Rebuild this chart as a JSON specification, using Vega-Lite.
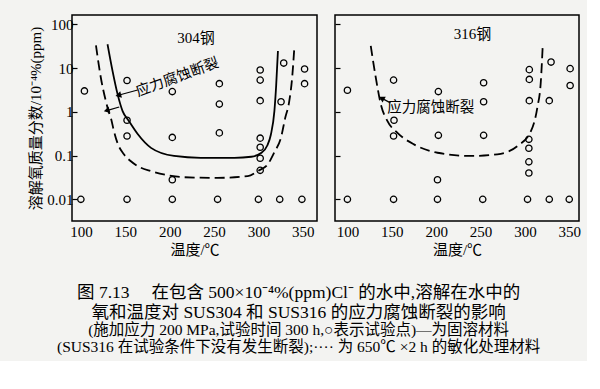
{
  "$schema": "https://vega.github.io/schema/vega-lite/v6.json",
  "background": "#f3f3f1",
  "padding": {"left": 28, "top": 14, "right": 5, "bottom": 5},
  "config": {
    "view": {"stroke": "black", "strokeWidth": 1.5},
    "axis": {"labelFont": "Liberation Serif", "labelFontSize": 15, "labelColor": "black", "tickColor": "black", "tickWidth": 1.2, "grid": false, "domain": false, "titleFont": "Liberation Serif, Noto Sans CJK SC", "titleFontWeight": "normal", "titleColor": "black"}
  },
  "title": {
    "text": ["图 7.13　  在包含 500×10⁻⁴%(ppm)Cl⁻ 的水中,溶解在水中的", "氧和温度对 SUS304 和 SUS316 的应力腐蚀断裂的影响"],
    "subtitle": ["(施加应力 200 MPa,试验时间 300 h,○表示试验点)—为固溶材料", "(SUS316 在试验条件下没有发生断裂);····  为 650℃ ×2 h 的敏化处理材料"],
    "orient": "bottom", "anchor": "middle", "dx": -6,
    "font": "Liberation Serif, Noto Sans CJK SC", "fontSize": 17.5, "fontWeight": "normal", "lineHeight": 20, "color": "black",
    "subtitleFont": "Liberation Serif, Noto Sans CJK SC", "subtitleFontSize": 15.5, "subtitleLineHeight": 17, "subtitleColor": "black", "subtitlePadding": 2,
    "offset": 26
  },
  "datasets": {
    "points": [
      {"steel": "304", "temp": 100, "o2": 0.01}, {"steel": "304", "temp": 104, "o2": 3.0},
      {"steel": "304", "temp": 152, "o2": 5.2}, {"steel": "304", "temp": 152, "o2": 0.64}, {"steel": "304", "temp": 152, "o2": 0.28}, {"steel": "304", "temp": 152, "o2": 0.01},
      {"steel": "304", "temp": 203, "o2": 2.9}, {"steel": "304", "temp": 203, "o2": 0.26}, {"steel": "304", "temp": 203, "o2": 0.028}, {"steel": "304", "temp": 203, "o2": 0.01},
      {"steel": "304", "temp": 256, "o2": 4.4}, {"steel": "304", "temp": 256, "o2": 1.5}, {"steel": "304", "temp": 256, "o2": 0.33}, {"steel": "304", "temp": 254, "o2": 0.01},
      {"steel": "304", "temp": 302, "o2": 9.0}, {"steel": "304", "temp": 302, "o2": 5.3}, {"steel": "304", "temp": 302, "o2": 1.8}, {"steel": "304", "temp": 302, "o2": 0.25}, {"steel": "304", "temp": 302, "o2": 0.155}, {"steel": "304", "temp": 302, "o2": 0.087}, {"steel": "304", "temp": 302, "o2": 0.046}, {"steel": "304", "temp": 300, "o2": 0.01},
      {"steel": "304", "temp": 328.5, "o2": 13}, {"steel": "304", "temp": 325.5, "o2": 1.7}, {"steel": "304", "temp": 324, "o2": 0.01},
      {"steel": "304", "temp": 352, "o2": 9.5}, {"steel": "304", "temp": 352, "o2": 4.4}, {"steel": "304", "temp": 349, "o2": 0.01},
      {"steel": "316", "temp": 100, "o2": 3.1}, {"steel": "316", "temp": 100, "o2": 0.01},
      {"steel": "316", "temp": 152, "o2": 5.3}, {"steel": "316", "temp": 152.5, "o2": 0.64}, {"steel": "316", "temp": 152, "o2": 0.28}, {"steel": "316", "temp": 152, "o2": 0.01},
      {"steel": "316", "temp": 202.5, "o2": 2.9}, {"steel": "316", "temp": 202.5, "o2": 0.29}, {"steel": "316", "temp": 201.5, "o2": 0.028}, {"steel": "316", "temp": 201.5, "o2": 0.01},
      {"steel": "316", "temp": 253.5, "o2": 4.6}, {"steel": "316", "temp": 253.5, "o2": 1.7}, {"steel": "316", "temp": 253.5, "o2": 0.29}, {"steel": "316", "temp": 252.5, "o2": 0.01},
      {"steel": "316", "temp": 305, "o2": 9.2}, {"steel": "316", "temp": 305, "o2": 5.5}, {"steel": "316", "temp": 305, "o2": 1.8}, {"steel": "316", "temp": 304.5, "o2": 0.235}, {"steel": "316", "temp": 304.5, "o2": 0.147}, {"steel": "316", "temp": 304.5, "o2": 0.072}, {"steel": "316", "temp": 304.5, "o2": 0.04}, {"steel": "316", "temp": 303, "o2": 0.01},
      {"steel": "316", "temp": 329.5, "o2": 13.7}, {"steel": "316", "temp": 327.5, "o2": 1.8}, {"steel": "316", "temp": 327.5, "o2": 0.01},
      {"steel": "316", "temp": 351, "o2": 9.7}, {"steel": "316", "temp": 351, "o2": 4.0}, {"steel": "316", "temp": 350, "o2": 0.01}
    ],
    "curves": [
      {"steel": "304", "kind": "solid", "temp": 130, "o2": 35}, {"steel": "304", "kind": "solid", "temp": 135.7, "o2": 8.5}, {"steel": "304", "kind": "solid", "temp": 141.4, "o2": 2.5}, {"steel": "304", "kind": "solid", "temp": 147, "o2": 1.04}, {"steel": "304", "kind": "solid", "temp": 154, "o2": 0.62}, {"steel": "304", "kind": "solid", "temp": 164, "o2": 0.31}, {"steel": "304", "kind": "solid", "temp": 179, "o2": 0.15}, {"steel": "304", "kind": "solid", "temp": 205, "o2": 0.098}, {"steel": "304", "kind": "solid", "temp": 235, "o2": 0.089}, {"steel": "304", "kind": "solid", "temp": 273, "o2": 0.089}, {"steel": "304", "kind": "solid", "temp": 292, "o2": 0.094}, {"steel": "304", "kind": "solid", "temp": 303, "o2": 0.115}, {"steel": "304", "kind": "solid", "temp": 310, "o2": 0.17}, {"steel": "304", "kind": "solid", "temp": 314, "o2": 0.3}, {"steel": "304", "kind": "solid", "temp": 318, "o2": 1.04}, {"steel": "304", "kind": "solid", "temp": 320, "o2": 4}, {"steel": "304", "kind": "solid", "temp": 322, "o2": 24.5},
      {"steel": "304", "kind": "dashed", "temp": 117, "o2": 33}, {"steel": "304", "kind": "dashed", "temp": 122.5, "o2": 6}, {"steel": "304", "kind": "dashed", "temp": 128, "o2": 1.8}, {"steel": "304", "kind": "dashed", "temp": 131, "o2": 1.05}, {"steel": "304", "kind": "dashed", "temp": 134, "o2": 0.7}, {"steel": "304", "kind": "dashed", "temp": 137, "o2": 0.38}, {"steel": "304", "kind": "dashed", "temp": 141.4, "o2": 0.19}, {"steel": "304", "kind": "dashed", "temp": 148, "o2": 0.11}, {"steel": "304", "kind": "dashed", "temp": 156, "o2": 0.075}, {"steel": "304", "kind": "dashed", "temp": 165, "o2": 0.056}, {"steel": "304", "kind": "dashed", "temp": 179, "o2": 0.044}, {"steel": "304", "kind": "dashed", "temp": 200, "o2": 0.035}, {"steel": "304", "kind": "dashed", "temp": 216, "o2": 0.032}, {"steel": "304", "kind": "dashed", "temp": 254, "o2": 0.031}, {"steel": "304", "kind": "dashed", "temp": 288, "o2": 0.034}, {"steel": "304", "kind": "dashed", "temp": 300, "o2": 0.045}, {"steel": "304", "kind": "dashed", "temp": 310.5, "o2": 0.063}, {"steel": "304", "kind": "dashed", "temp": 318, "o2": 0.12}, {"steel": "304", "kind": "dashed", "temp": 325.5, "o2": 0.26}, {"steel": "304", "kind": "dashed", "temp": 330, "o2": 0.7}, {"steel": "304", "kind": "dashed", "temp": 334.8, "o2": 1.77}, {"steel": "304", "kind": "dashed", "temp": 338, "o2": 6}, {"steel": "304", "kind": "dashed", "temp": 340.5, "o2": 30},
      {"steel": "316", "kind": "dashed", "temp": 126.3, "o2": 32}, {"steel": "316", "kind": "dashed", "temp": 132, "o2": 6}, {"steel": "316", "kind": "dashed", "temp": 137.6, "o2": 1.5}, {"steel": "316", "kind": "dashed", "temp": 145, "o2": 0.62}, {"steel": "316", "kind": "dashed", "temp": 156.4, "o2": 0.33}, {"steel": "316", "kind": "dashed", "temp": 175, "o2": 0.18}, {"steel": "316", "kind": "dashed", "temp": 201.5, "o2": 0.116}, {"steel": "316", "kind": "dashed", "temp": 239, "o2": 0.098}, {"steel": "316", "kind": "dashed", "temp": 269, "o2": 0.107}, {"steel": "316", "kind": "dashed", "temp": 291.7, "o2": 0.165}, {"steel": "316", "kind": "dashed", "temp": 306.8, "o2": 0.36}, {"steel": "316", "kind": "dashed", "temp": 314, "o2": 1.24}, {"steel": "316", "kind": "dashed", "temp": 318, "o2": 5}, {"steel": "316", "kind": "dashed", "temp": 320, "o2": 29}
    ],
    "arrows": [
      {"steel": "304", "arrow": "a1", "tip": false, "temp": 164, "o2": 3.15}, {"steel": "304", "arrow": "a1", "tip": true, "temp": 143.2, "o2": 2.42},
      {"steel": "304", "arrow": "a2", "tip": false, "temp": 143.2, "o2": 1.29}, {"steel": "304", "arrow": "a2", "tip": true, "temp": 130.1, "o2": 1.08},
      {"steel": "316", "arrow": "b1", "tip": false, "temp": 148.5, "o2": 1.6}, {"steel": "316", "arrow": "b1", "tip": true, "temp": 139.5, "o2": 2.0}
    ],
    "labels": [
      {"steel": "304", "kind": "name", "temp": 229.6, "o2": 49, "label": "304钢"},
      {"steel": "304", "kind": "note", "temp": 208.8, "o2": 6.0, "label": "应力腐蚀断裂"},
      {"steel": "316", "kind": "name", "temp": 241, "o2": 59, "label": "316钢"},
      {"steel": "316", "kind": "note", "temp": 194, "o2": 1.24, "label": "应力腐蚀断裂"}
    ]
  },
  "hconcat": [
    {
      "width": 245, "height": 206,
      "encoding": {
        "x": {"field": "temp", "type": "quantitative", "scale": {"domain": [90, 366], "nice": false, "zero": false},
              "axis": {"values": [100, 150, 200, 250, 300, 350], "format": "d", "title": "温度/℃", "titleFontSize": 15, "ticks": false, "labelPadding": 3, "titlePadding": 3}},
        "y": {"field": "o2", "type": "quantitative", "scale": {"type": "log", "domain": [0.0032, 163], "nice": false},
              "axis": {"values": [0.01, 0.1, 1, 10, 100], "format": "~g", "title": "溶解氧质量分数/10⁻⁴%(ppm)", "titleFontSize": 15, "tickSize": -5, "labelPadding": 4, "titlePadding": 3}}
      },
      "layer": [
        {"data": {"name": "curves"}, "transform": [{"filter": "datum.steel === '304' && datum.kind === 'solid'"}],
         "mark": {"type": "line", "interpolate": "monotone", "stroke": "black", "strokeWidth": 1.8}},
        {"data": {"name": "curves"}, "transform": [{"filter": "datum.steel === '304' && datum.kind === 'dashed'"}],
         "mark": {"type": "line", "interpolate": "monotone", "stroke": "black", "strokeWidth": 1.8, "strokeDash": [10, 5]}},
        {"data": {"name": "arrows"}, "transform": [{"filter": "datum.steel === '304'"}],
         "mark": {"type": "line", "stroke": "black", "strokeWidth": 1.2}, "encoding": {"detail": {"field": "arrow"}}},
        {"data": {"name": "arrows"}, "transform": [{"filter": "datum.steel === '304' && datum.tip"}],
         "mark": {"type": "point", "shape": "triangle", "filled": true, "fill": "black", "stroke": null, "size": 45, "angle": 255, "opacity": 1}},
        {"data": {"name": "points"}, "transform": [{"filter": "datum.steel === '304'"}],
         "mark": {"type": "point", "shape": "circle", "filled": false, "stroke": "black", "strokeWidth": 1.3, "size": 40, "opacity": 1}},
        {"data": {"name": "labels"}, "transform": [{"filter": "datum.steel === '304' && datum.kind === 'name'"}],
         "mark": {"type": "text", "font": "Liberation Serif, Noto Sans CJK SC", "fontSize": 15, "color": "black"}, "encoding": {"text": {"field": "label"}}},
        {"data": {"name": "labels"}, "transform": [{"filter": "datum.steel === '304' && datum.kind === 'note'"}],
         "mark": {"type": "text", "font": "Noto Sans CJK SC", "fontSize": 14.5, "angle": -20, "color": "black"}, "encoding": {"text": {"field": "label"}}}
      ]
    },
    {
      "width": 244, "height": 206,
      "encoding": {
        "x": {"field": "temp", "type": "quantitative", "scale": {"domain": [86, 361], "nice": false, "zero": false},
              "axis": {"values": [100, 150, 200, 250, 300, 350], "format": "d", "title": "温度/℃", "titleFontSize": 15, "ticks": false, "labelPadding": 3, "titlePadding": 3}},
        "y": {"field": "o2", "type": "quantitative", "scale": {"type": "log", "domain": [0.0032, 163], "nice": false},
              "axis": {"values": [0.01, 0.1, 1, 10, 100], "labels": false, "title": null, "tickSize": -5}}
      },
      "layer": [
        {"data": {"name": "curves"}, "transform": [{"filter": "datum.steel === '316'"}],
         "mark": {"type": "line", "interpolate": "monotone", "stroke": "black", "strokeWidth": 1.8, "strokeDash": [10, 5]}},
        {"data": {"name": "arrows"}, "transform": [{"filter": "datum.steel === '316'"}],
         "mark": {"type": "line", "stroke": "black", "strokeWidth": 1.2}, "encoding": {"detail": {"field": "arrow"}}},
        {"data": {"name": "arrows"}, "transform": [{"filter": "datum.steel === '316' && datum.tip"}],
         "mark": {"type": "point", "shape": "triangle", "filled": true, "fill": "black", "stroke": null, "size": 45, "angle": 299, "opacity": 1}},
        {"data": {"name": "points"}, "transform": [{"filter": "datum.steel === '316'"}],
         "mark": {"type": "point", "shape": "circle", "filled": false, "stroke": "black", "strokeWidth": 1.3, "size": 40, "opacity": 1}},
        {"data": {"name": "labels"}, "transform": [{"filter": "datum.steel === '316' && datum.kind === 'name'"}],
         "mark": {"type": "text", "font": "Liberation Serif, Noto Sans CJK SC", "fontSize": 15, "color": "black"}, "encoding": {"text": {"field": "label"}}},
        {"data": {"name": "labels"}, "transform": [{"filter": "datum.steel === '316' && datum.kind === 'note'"}],
         "mark": {"type": "text", "font": "Noto Sans CJK SC", "fontSize": 14.5, "color": "black"}, "encoding": {"text": {"field": "label"}}}
      ]
    }
  ],
  "spacing": 15
}
